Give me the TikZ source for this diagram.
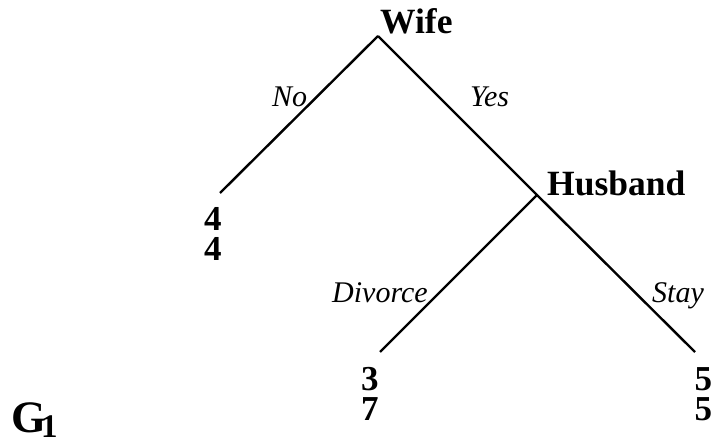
\documentclass[tikz,border=0pt]{standalone}
\usepackage{fontspec}
\setmainfont{Liberation Serif}
\begin{document}
\begin{tikzpicture}[x=1pt,y=-1pt,
  branch/.style={line width=2.4pt},
  player/.style={inner sep=0pt,anchor=base west,font=\fontsize{35.5}{35.5}\selectfont\bfseries},
  act/.style={inner sep=0pt,anchor=base west,font=\fontsize{30}{30}\selectfont\itshape},
  pay/.style={inner sep=0pt,anchor=base west,font=\fontsize{35}{35}\selectfont\bfseries}]
\useasboundingbox (0,0) rectangle (712,441);
\coordinate (w) at (378,36);
\coordinate (h) at (537,195);
\coordinate (n) at (220,193);
\coordinate (d) at (380,352);
\coordinate (s) at (695,352);
\draw[branch] (w) -- (n);
\draw[branch] (w) -- (h) -- (s);
\draw[branch] (h) -- (d);
\node[player] (wl) at (380,34) {Wife};
\node[player] (hl) at (547,195) {Husband};
\node[act] (no) at (272,107) {No};
\node[act] (yes) at (470,107) {Yes};
\node[act] (div) at (332,302) {Divorce};
\node[act] (stay) at (652,302) {Stay};
\node[pay] (n1) at (204,230) {4};
\node[pay] (n2) at (204,260) {4};
\node[pay] (d1) at (361,390) {3};
\node[pay] (d2) at (361,420) {7};
\node[pay] (s1) at (694.5,390) {5};
\node[pay] (s2) at (694.5,420) {5};
\node[inner sep=0pt,anchor=base west,font=\fontsize{45}{45}\selectfont\bfseries] (g) at (11,432) {G\kern-5pt\raisebox{-5pt}{\fontsize{33}{33}\selectfont 1}};
\end{tikzpicture}
\end{document}
